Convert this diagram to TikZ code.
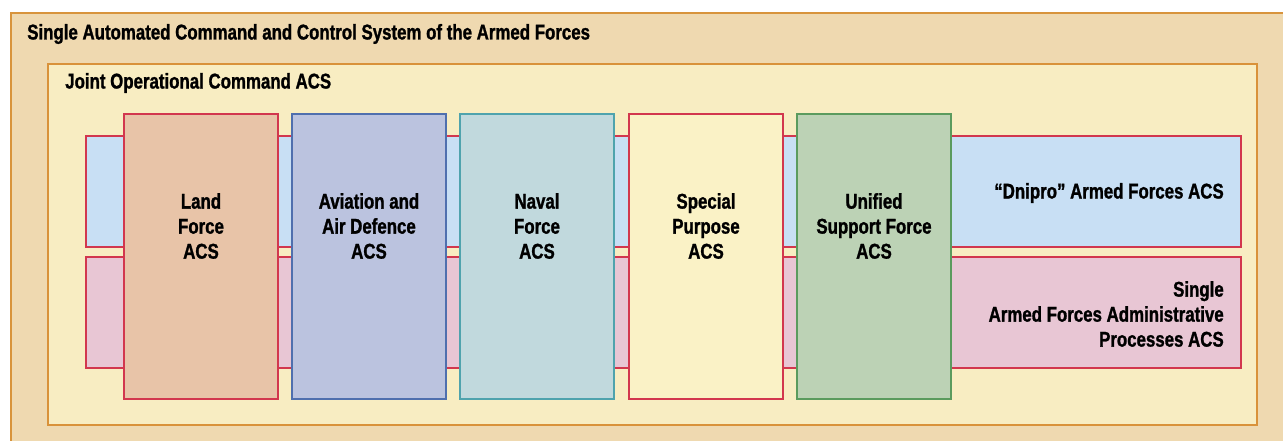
\documentclass[tikz,border=0pt]{standalone}
\usepackage{fontspec}
\setmainfont[FakeStretch=0.79, FakeBold=1.2]{Liberation Sans}

\definecolor{outerfill}{HTML}{EFD9B0}
\definecolor{outerline}{HTML}{D8943C}
\definecolor{innerfill}{HTML}{F8EDC2}
\definecolor{innerline}{HTML}{D9923A}
\definecolor{acsred}{HTML}{D2374E}
\definecolor{dniproblue}{HTML}{C8DFF4}
\definecolor{adminpink}{HTML}{E8C6D4}
\definecolor{landfill}{HTML}{E8C4A8}
\definecolor{airfill}{HTML}{BBC3DF}
\definecolor{airline}{HTML}{4F6FAE}
\definecolor{navalfill}{HTML}{C1D9DD}
\definecolor{navalline}{HTML}{4FA3AD}
\definecolor{specialfill}{HTML}{FAF2C6}
\definecolor{unifiedfill}{HTML}{BCD2B5}
\definecolor{unifiedline}{HTML}{5B9B5E}

\begin{document}
\begin{tikzpicture}[x=0.75pt, y=-0.75pt,
    frame/.style={line width=1.4pt},
    box/.style={line width=1.1pt},
    label/.style={inner sep=0pt, font=\bfseries\fontsize{16}{18.75}\selectfont}]
    \useasboundingbox (0,0) rectangle (1283,441);
    \clip (0,0) rectangle (1283,441);

    % variables
    \def\colTop{114}
    \def\colWidth{154}
    \def\colHeight{285}
    \def\textY{226}

    % Outer frame - runs off the page on the right and at the bottom
    \draw[frame, draw=outerline, fill=outerfill] (11,13) rectangle (1300,460);
    \node[label, anchor=west] (system) at (27,34) {Single Automated Command and Control System of the Armed Forces};

    % Inner frame
    \draw[frame, draw=innerline, fill=innerfill] (48,64) rectangle (1257,425);
    \node[label, anchor=west] (joc) at (65,83) {Joint Operational Command ACS};

    % Horizontal bands - drawn first so the columns sit on top
    \draw[box, draw=acsred, fill=dniproblue] (86,136) rectangle (1241,247);
    \draw[box, draw=acsred, fill=adminpink] (86,257) rectangle (1241,368);
    \node[label, anchor=east] (dnipro) at (1224,193) {“Dnipro” Armed Forces ACS};
    \node[label, anchor=east, align=right] (admin) at (1224,314) {Single\\Armed Forces Administrative\\Processes ACS};

    % Land column
    \draw[box, draw=acsred, fill=landfill] (124,\colTop) rectangle ++(\colWidth,\colHeight);
    \node[label, align=center] (land) at (124+\colWidth/2,\textY) {Land\\Force\\ACS};

    % Aviation column
    \draw[box, draw=airline, fill=airfill] (292,\colTop) rectangle ++(\colWidth,\colHeight);
    \node[label, align=center] (air) at (292+\colWidth/2,\textY) {Aviation and\\Air Defence\\ACS};

    % Naval column
    \draw[box, draw=navalline, fill=navalfill] (460,\colTop) rectangle ++(\colWidth,\colHeight);
    \node[label, align=center] (naval) at (460+\colWidth/2,\textY) {Naval\\Force\\ACS};

    % Special purpose column
    \draw[box, draw=acsred, fill=specialfill] (629,\colTop) rectangle ++(\colWidth,\colHeight);
    \node[label, align=center] (special) at (629+\colWidth/2,\textY) {Special\\Purpose\\ACS};

    % Unified support column
    \draw[box, draw=unifiedline, fill=unifiedfill] (797,\colTop) rectangle ++(\colWidth,\colHeight);
    \node[label, align=center] (support) at (797+\colWidth/2,\textY) {Unified\\Support Force\\ACS};

\end{tikzpicture}
\end{document}
